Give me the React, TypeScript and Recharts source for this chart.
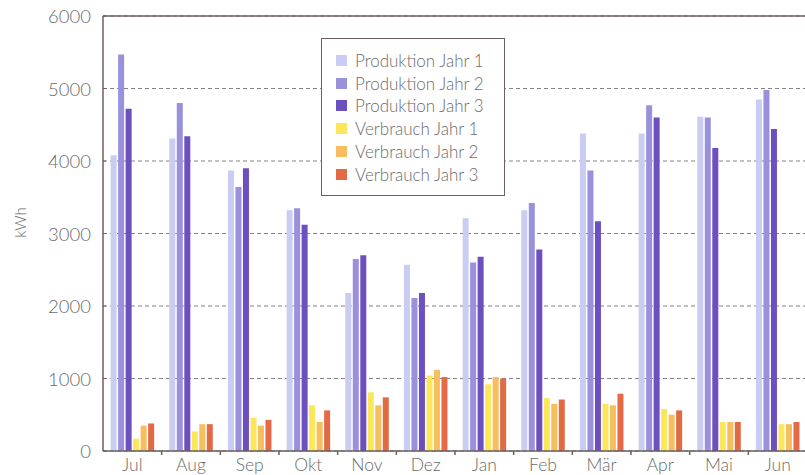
import React from 'react';
import { BarChart, Bar, XAxis, YAxis, CartesianGrid, Legend, ReferenceLine, Label } from 'recharts';

const months = ['Jul', 'Aug', 'Sep', 'Okt', 'Nov', 'Dez', 'Jan', 'Feb', 'Mär', 'Apr', 'Mai', 'Jun'];

const prodJahr1 = [4080, 4310, 3870, 3320, 2180, 2570, 3210, 3320, 4380, 4380, 4610, 4850];
const prodJahr2 = [5470, 4800, 3640, 3350, 2650, 2110, 2600, 3420, 3870, 4770, 4600, 4980];
const prodJahr3 = [4720, 4340, 3900, 3120, 2700, 2180, 2680, 2780, 3170, 4600, 4180, 4440];
const verbJahr1 = [170, 270, 460, 630, 810, 1040, 920, 730, 650, 580, 400, 370];
const verbJahr2 = [350, 370, 350, 400, 630, 1120, 1020, 650, 630, 500, 400, 370];
const verbJahr3 = [380, 370, 430, 560, 740, 1020, 1000, 710, 790, 560, 400, 400];

const yTicks = [0, 1000, 2000, 3000, 4000, 5000, 6000];

const series = [
  { key: 'p1', name: 'Produktion Jahr 1', color: '#c9cdf3', values: prodJahr1 },
  { key: 'p2', name: 'Produktion Jahr 2', color: '#9a91dc', values: prodJahr2 },
  { key: 'p3', name: 'Produktion Jahr 3', color: '#6c50bf', values: prodJahr3 },
  { key: 'v1', name: 'Verbrauch Jahr 1', color: '#fbe65c', values: verbJahr1 },
  { key: 'v2', name: 'Verbrauch Jahr 2', color: '#f7bd5e', values: verbJahr2 },
  { key: 'v3', name: 'Verbrauch Jahr 3', color: '#e36a45', values: verbJahr3 },
];

const data = months.map((m, i) => {
  const row: Record<string, string | number> = { month: m };
  series.forEach((s) => {
    row[s.key] = s.values[i];
  });
  return row;
});

const FONT = 'Lato, "Open Sans", sans-serif';
const WEIGHT = 300;
const TEXT = '#6b6b6b';
const AXIS = '#6a615e';

const CHART_W = 810;
const CHART_H = 475;
const LEFT = 103;
const RIGHT = 3;
const X_AXIS_H = 24;
const AXIS_Y = CHART_H - X_AXIS_H;
const BAND = (CHART_W - LEFT - RIGHT) / months.length;

function MonthTick(props: any) {
  const { x, payload } = props;
  const edge = x - BAND / 2;
  return (
    <g>
      {payload.index > 0 && (
        <line x1={edge} x2={edge} y1={AXIS_Y} y2={AXIS_Y + 4} stroke={AXIS} strokeWidth={1.5} />
      )}
      <text x={x} y={AXIS_Y + 20} textAnchor="middle" fill={TEXT} fontSize={17.5} fontFamily={FONT} fontWeight={WEIGHT}>
        {payload.value}
      </text>
    </g>
  );
}

function ValueTick(props: any) {
  const { y, payload } = props;
  return (
    <g>
      <line x1={LEFT} x2={LEFT + 3} y1={y} y2={y} stroke={AXIS} strokeWidth={1} />
      <text
        x={LEFT - 12}
        y={y}
        textAnchor="end"
        dominantBaseline="central"
        fill={TEXT}
        fontSize={18.5}
        fontFamily={FONT}
        fontWeight={WEIGHT}
      >
        {payload.value}
      </text>
    </g>
  );
}

function LegendBox() {
  return (
    <div
      style={{
        border: `1.5px solid ${AXIS}`,
        background: '#fff',
        padding: '10px 0 0 14px',
        boxSizing: 'border-box',
        width: 184,
        height: 158,
        fontFamily: FONT,
        fontWeight: WEIGHT,
        fontSize: 17,
        color: TEXT,
        textAlign: 'left',
      }}
    >
      {series.map((s) => (
        <div key={s.key} style={{ display: 'flex', alignItems: 'center', height: 22.8 }}>
          <span style={{ width: 11, height: 11, background: s.color, marginRight: 8, display: 'inline-block' }} />
          <span>{s.name}</span>
        </div>
      ))}
    </div>
  );
}

export default function App() {
  return (
    <div style={{ position: 'absolute', left: 0, top: 0, width: 805, height: 475, overflow: 'hidden', background: '#fff' }}>
      <BarChart
        width={CHART_W}
        height={CHART_H}
        data={data}
        margin={{ top: 16, right: RIGHT, left: 0, bottom: 0 }}
        barCategoryGap="13%"
        barGap={1.5}
      >
        <CartesianGrid vertical={false} stroke="#8a8282" strokeDasharray="4 3" />
        <XAxis
          dataKey="month"
          height={X_AXIS_H}
          axisLine={{ stroke: AXIS, strokeWidth: 1.5 }}
          tickLine={false}
          tick={<MonthTick />}
          interval={0}
        />
        <YAxis
          width={LEFT}
          domain={[0, 6000]}
          ticks={yTicks}
          interval={0}
          axisLine={{ stroke: AXIS, strokeWidth: 1.5 }}
          tickLine={false}
          tick={<ValueTick />}
        >
          <Label
            content={(p: any) => {
              const vb = p.viewBox || {};
              const cx = (vb.x || 0) + 20;
              const cy = (vb.y || 0) + (vb.height || 0) / 2 - 11;
              return (
                <text
                  x={cx}
                  y={cy}
                  textAnchor="middle"
                  dominantBaseline="central"
                  transform={`rotate(-90, ${cx}, ${cy})`}
                  fill={TEXT}
                  fontSize={15}
                  fontFamily={FONT}
                  fontWeight={WEIGHT}
                >
                  kWh
                </text>
              );
            }}
          />
        </YAxis>
        <ReferenceLine y={6000} stroke={AXIS} strokeWidth={1.5} />
        <Legend
          layout="vertical"
          align="center"
          verticalAlign="middle"
          content={() => <LegendBox />}
          wrapperStyle={{ position: 'absolute', left: 321, top: 38, width: 184, height: 158 }}
        />
        {series.map((s) => (
          <Bar key={s.key} dataKey={s.key} name={s.name} fill={s.color} isAnimationActive={false} />
        ))}
      </BarChart>
    </div>
  );
}
